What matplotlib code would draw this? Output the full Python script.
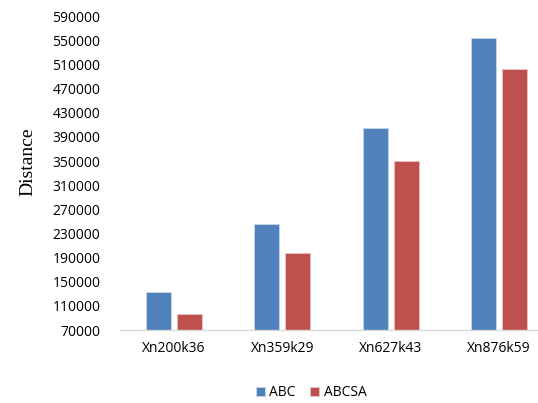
import numpy as np
import matplotlib
matplotlib.use("Agg")
import matplotlib.pyplot as plt

categories = ["Xn200k36", "Xn359k29", "Xn627k43", "Xn876k59"]
abc = [133000, 245000, 405000, 553000]
abcsa = [97000, 197000, 350000, 503000]
yticks = list(range(70000, 590001, 40000))

plt.rcParams['font.family'] = ['Open Sans', 'DejaVu Sans']

fig = plt.figure(figsize=(5.38, 4.03), dpi=100)
ax = fig.add_axes([0.223, 0.181, 0.777, 0.779])

x = np.arange(len(categories))
w = 0.232
off = 0.143
ax.bar(x - off, abc, w, color="#4F81BD", edgecolor="#c9d6ea", linewidth=0.6, label="ABC")
ax.bar(x + off, abcsa, w, color="#C0504D", edgecolor="#e8c4c3", linewidth=0.6, label="ABCSA")

ax.set_ylim(70000, 590000)
ax.set_xlim(-0.5, 3.36)
ax.set_yticks(yticks)
ax.set_yticklabels([str(v) for v in yticks])
ax.set_xticks(x)
ax.set_xticklabels(categories)
ax.tick_params(axis="both", length=0, labelsize=10, colors="#000000")
ax.tick_params(axis="y", pad=14)
ax.tick_params(axis="x", pad=8)

for s in ["top", "right", "left"]:
    ax.spines[s].set_visible(False)
ax.spines["bottom"].set_color("#d9d9d9")
ax.spines["bottom"].set_linewidth(1)

ax.set_ylabel("Distance", family="Liberation Serif", fontsize=14)
ax.yaxis.set_label_coords(-0.2, 0.535)

fig.legend(loc="center", bbox_to_anchor=(0.578, 0.025), ncol=2, frameon=False,
           fontsize=10, handlelength=0.7, handleheight=0.7, handletextpad=0.3,
           columnspacing=1.0)

fig.savefig("out.png", dpi=100)
